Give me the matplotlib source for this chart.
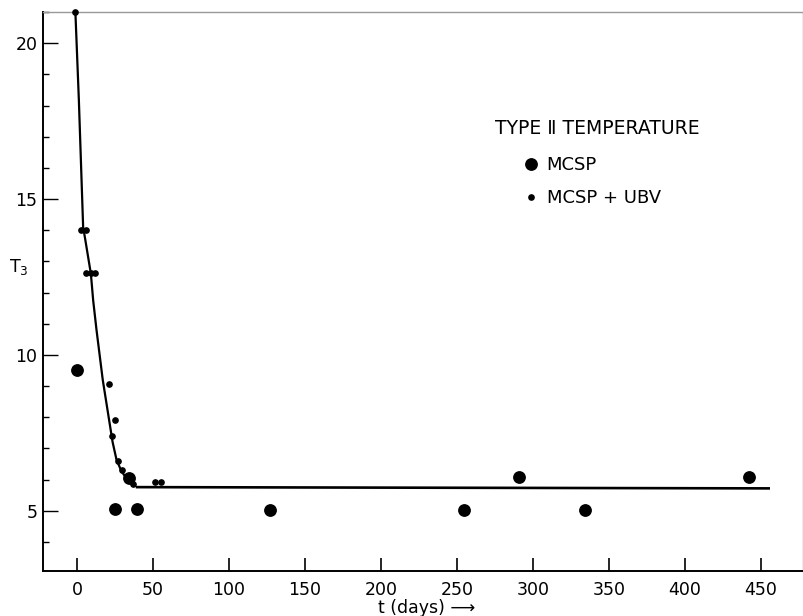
import matplotlib
matplotlib.use("Agg")
import matplotlib.pyplot as plt
from matplotlib.lines import Line2D
from matplotlib.ticker import MultipleLocator

# --- data ---
mcsp_t = [0, 25, 34.5, 39.5, 127, 254.5, 290.5, 334, 442]
mcsp_T = [9.53, 5.06, 6.04, 5.06, 5.04, 5.04, 6.09, 5.04, 6.09]

ubv_t = [-1, 3, 6, 6, 9, 12, 21.2, 24.8, 22.8, 27.2, 29.4, 37, 51.2, 55.2]
ubv_T = [21.0, 14.0, 14.0, 12.63, 12.63, 12.63, 9.06, 7.91, 7.39, 6.60, 6.30, 5.85, 5.92, 5.92]

curve_t = [-1, 1.3, 4.1, 5.5, 9.2, 10.7, 12.9, 17.0, 22.2, 23.5, 26.0, 29.0, 33.0, 37.0]
curve_T = [21.0, 18.16, 14.1, 13.7, 12.6, 11.75, 10.8, 9.2, 7.6, 7.2, 6.65, 6.3, 6.0, 5.85]

flat_t = [39.6, 455]
flat_T = [5.76, 5.72]

x_ticks = [0, 50, 100, 150, 200, 250, 300, 350, 400, 450]
y_ticks = [5, 10, 15, 20]

fig = plt.figure(figsize=(8.04, 6.16), dpi=100)
ax = fig.add_axes([43/804, 1 - 571/616, 1 - 43/804 - 0.001, (571 - 12)/616])

ax.plot(curve_t, curve_T, color="black", lw=1.6, clip_on=False, zorder=2)
ax.plot(flat_t, flat_T, color="black", lw=1.9, zorder=2)
ax.plot(mcsp_t, mcsp_T, "o", color="black", ms=8.2, ls="none", zorder=3)
ax.plot(ubv_t, ubv_T, "o", color="black", ms=3.8, ls="none", clip_on=False, zorder=3)

ax.set_xlim(-22.3, 477.7)
ax.set_ylim(3.07, 21.0)
ax.set_xticks(x_ticks)
ax.set_yticks(y_ticks)
ax.yaxis.set_minor_locator(MultipleLocator(1))

ax.tick_params(axis="x", which="major", direction="in", length=9.5, width=1.2,
               labelsize=12.5, pad=7)
ax.tick_params(axis="y", which="major", direction="in", length=11, width=1.0,
               labelsize=12.5, pad=4)
ax.tick_params(axis="y", which="minor", direction="in", length=4.5, width=1.0)

for side in ["left", "bottom"]:
    ax.spines[side].set_linewidth(1.4)
    ax.spines[side].set_color("black")
for side in ["top", "right"]:
    ax.spines[side].set_linewidth(1.0)
    ax.spines[side].set_color("#999999")

fig.text(9/804, 1 - 267/616, r"T$_3$", fontsize=12.5, ha="left", va="center")
fig.text(378/804, 1 - 608/616, "t (days) \u27f6", fontsize=12.5, ha="left", va="center")

fig.text(495/804, 1 - 129/616, "TYPE \u2161 TEMPERATURE", fontsize=13.5,
         ha="left", va="center")
handles = [
    Line2D([], [], marker="o", color="black", ls="none", ms=8.2),
    Line2D([], [], marker="o", color="black", ls="none", ms=3.8),
]
ax.legend(handles, ["MCSP", "MCSP + UBV"], loc="upper left",
          bbox_to_anchor=(524/804, 1 - 156/616), bbox_transform=fig.transFigure,
          frameon=False, fontsize=13, handlelength=0.8, handletextpad=0.45,
          labelspacing=0.85, borderaxespad=0, borderpad=0)

fig.savefig("out.png", dpi=100)
